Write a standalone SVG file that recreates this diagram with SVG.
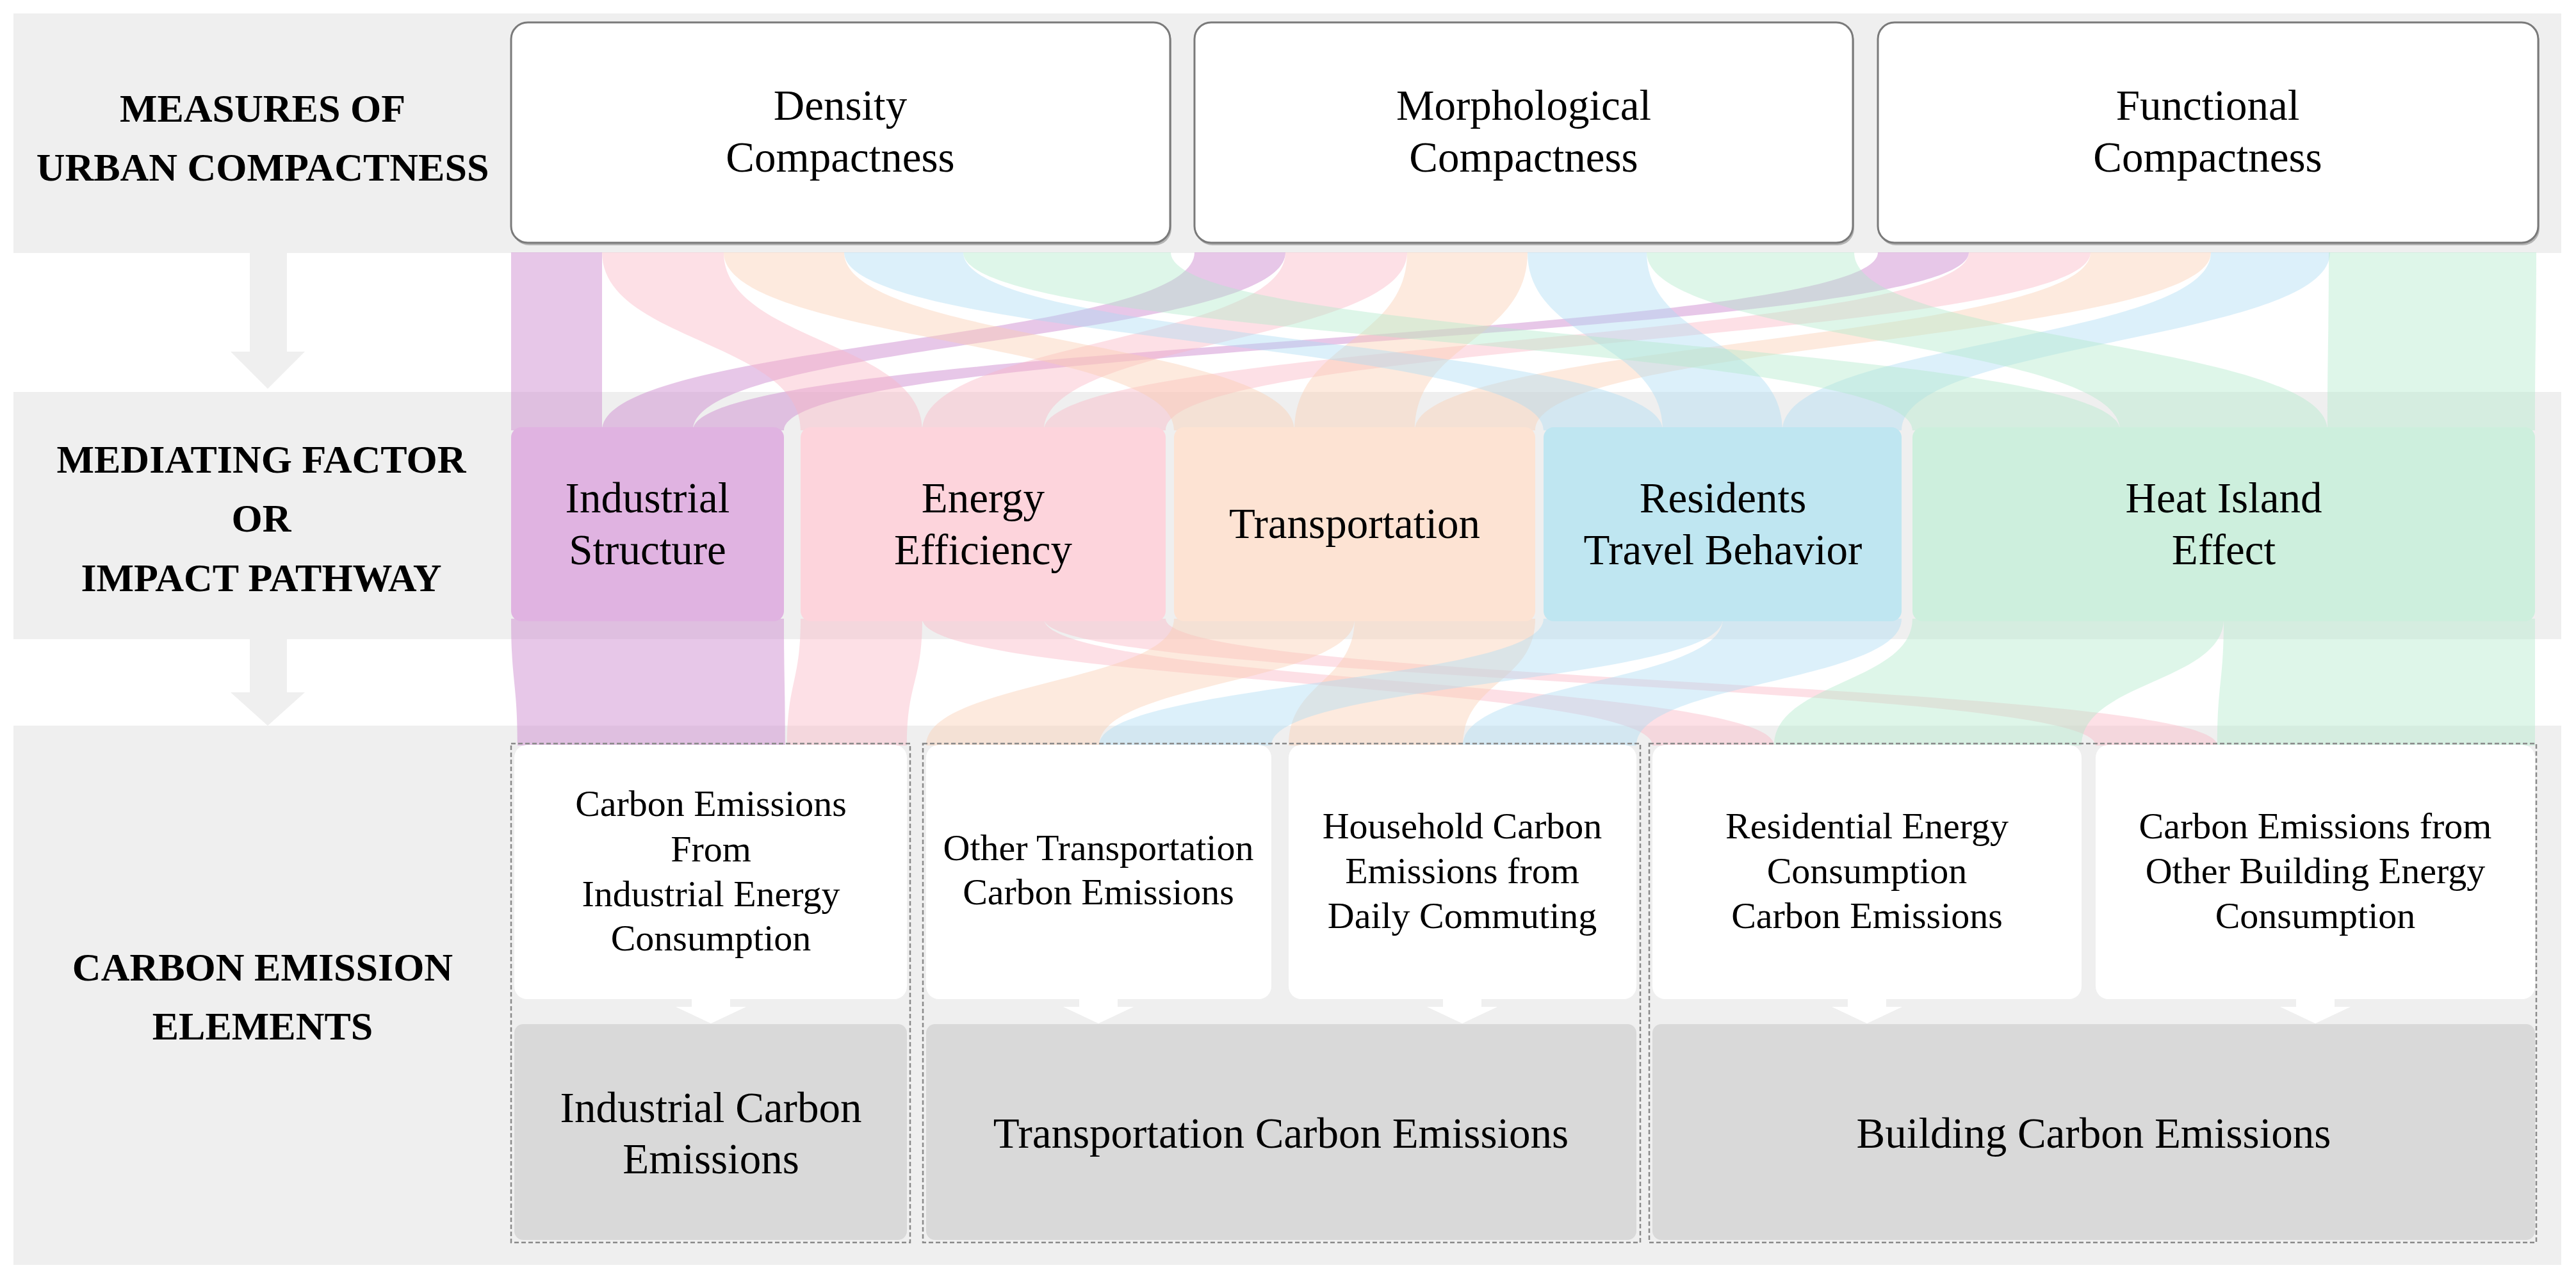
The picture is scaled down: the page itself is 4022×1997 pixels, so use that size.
<svg xmlns="http://www.w3.org/2000/svg" width="4022" height="1997" viewBox="0 0 4022 1997">
<style>
.band{fill:#efefef}
.top{fill:#ffffff;stroke:#7a7a7a;stroke-width:3}
.shadow{fill:#b4b4b4}
.lbl{font-family:"Liberation Serif","Times New Roman",serif;font-weight:bold;font-size:62px;fill:#000;text-anchor:middle}
.t67{font-family:"Liberation Serif","Times New Roman",serif;font-size:67px;fill:#000;text-anchor:middle}
.t58{font-family:"Liberation Serif","Times New Roman",serif;font-size:58px;fill:#000;text-anchor:middle}
.grp{fill:none;stroke:#8a8a8a;stroke-width:2.5;stroke-dasharray:7 4}
.wb{fill:#ffffff}
.gb{fill:#d9d9d9}
.pu{fill:#cf8fd2;fill-opacity:0.5}
.pk{fill:#fbb4c3;fill-opacity:0.42}
.pe{fill:#fbcdb0;fill-opacity:0.42}
.bl{fill:#acdcf2;fill-opacity:0.42}
.gr{fill:#b0e9cb;fill-opacity:0.42}
.sarrow{fill:#ffffff}
</style>
<rect x="0" y="0" width="4022" height="1997" fill="#ffffff"/>
<g id="bands">
<rect class="band" x="21" y="21" width="3978" height="374"/>
<rect class="band" x="21" y="612" width="3978" height="386"/>
<rect class="band" x="21" y="1133" width="3978" height="842"/>
<path class="band" d="M390 395 H448 V549 H476 L418 607 L360 549 H390 Z"/>
<path class="band" d="M390 998 H448 V1081 H476 L418 1133 L360 1081 H390 Z"/>
</g>
<g id="row-labels">
<text class="lbl" x="410" y="190">MEASURES OF</text>
<text class="lbl" x="410" y="282">URBAN COMPACTNESS</text>
<text class="lbl" x="408" y="738">MEDIATING FACTOR</text>
<text class="lbl" x="408" y="830">OR</text>
<text class="lbl" x="408" y="923">IMPACT PATHWAY</text>
<text class="lbl" x="410" y="1531">CARBON EMISSION</text>
<text class="lbl" x="410" y="1623">ELEMENTS</text>
</g>
<g id="connectors">
<path class="pu" d="M798 394 C798 533 798 533 798 672 L940 672 C940 533 940 533 940 394 Z"/>
<path class="pu" d="M1865 394 C1865 533 940 533 940 672 L1082 672 C1082 533 2007 533 2007 394 Z"/>
<path class="pu" d="M2932 394 C2932 533 1082 533 1082 672 L1224 672 C1224 533 3074 533 3074 394 Z"/>
<path class="pk" d="M940 394 C940 533 1250 533 1250 672 L1440 672 C1440 533 1130 533 1130 394 Z"/>
<path class="pk" d="M2007 394 C2007 533 1440 533 1440 672 L1630 672 C1630 533 2197 533 2197 394 Z"/>
<path class="pk" d="M3074 394 C3074 533 1630 533 1630 672 L1820 672 C1820 533 3264 533 3264 394 Z"/>
<path class="pe" d="M1130 394 C1130 533 1833 533 1833 672 L2021 672 C2021 533 1318 533 1318 394 Z"/>
<path class="pe" d="M2197 394 C2197 533 2021 533 2021 672 L2209 672 C2209 533 2385 533 2385 394 Z"/>
<path class="pe" d="M3264 394 C3264 533 2209 533 2209 672 L2397 672 C2397 533 3452 533 3452 394 Z"/>
<path class="bl" d="M1318 394 C1318 533 2410 533 2410 672 L2596 672 C2596 533 1504 533 1504 394 Z"/>
<path class="bl" d="M2385 394 C2385 533 2596 533 2596 672 L2783 672 C2783 533 2571 533 2571 394 Z"/>
<path class="bl" d="M3452 394 C3452 533 2783 533 2783 672 L2969 672 C2969 533 3638 533 3638 394 Z"/>
<path class="gr" d="M1504 394 C1504 533 2986 533 2986 672 L3310 672 C3310 533 1828 533 1828 394 Z"/>
<path class="gr" d="M2571 394 C2571 533 3310 533 3310 672 L3634 672 C3634 533 2895 533 2895 394 Z"/>
<path class="gr" d="M3636 394 C3636 533 3634 533 3634 672 L3958 672 C3958 533 3960 533 3960 394 Z"/>
<path class="pu" d="M798 966 C798 1065 808 1065 808 1164 L1226 1164 C1226 1065 1224 1065 1224 966 Z"/>
<path class="pk" d="M1250 966 C1250 1065 1229 1065 1229 1164 L1416 1164 C1416 1065 1440 1065 1440 966 Z"/>
<path class="pk" d="M1440 966 C1440 1065 2580 1065 2580 1164 L2770 1164 C2770 1065 1630 1065 1630 966 Z"/>
<path class="pk" d="M1630 966 C1630 1065 3272 1065 3272 1164 L3462 1164 C3462 1065 1820 1065 1820 966 Z"/>
<path class="pe" d="M1833 966 C1833 1065 1446 1065 1446 1164 L1716 1164 C1716 1065 2115 1065 2115 966 Z"/>
<path class="pe" d="M2115 966 C2115 1065 2012 1065 2012 1164 L2284 1164 C2284 1065 2397 1065 2397 966 Z"/>
<path class="bl" d="M2410 966 C2410 1065 1716 1065 1716 1164 L1985 1164 C1985 1065 2690 1065 2690 966 Z"/>
<path class="bl" d="M2690 966 C2690 1065 2284 1065 2284 1164 L2555 1164 C2555 1065 2969 1065 2969 966 Z"/>
<path class="gr" d="M2986 966 C2986 1065 2770 1065 2770 1164 L3250 1164 C3250 1065 3472 1065 3472 966 Z"/>
<path class="gr" d="M3472 966 C3472 1065 3462 1065 3462 1164 L3958 1164 C3958 1065 3958 1065 3958 966 Z"/>
</g>
<g id="measure-density">
<rect class="shadow" x="800" y="39" width="1029" height="344" rx="26"/>
<rect class="top" x="798" y="35" width="1029" height="344" rx="26"/>
<text class="t67" x="1312" y="187">Density</text>
<text class="t67" x="1312" y="268">Compactness</text>
</g>
<g id="measure-morphological">
<rect class="shadow" x="1867" y="39" width="1028" height="344" rx="26"/>
<rect class="top" x="1865" y="35" width="1028" height="344" rx="26"/>
<text class="t67" x="2379" y="187">Morphological</text>
<text class="t67" x="2379" y="268">Compactness</text>
</g>
<g id="measure-functional">
<rect class="shadow" x="2934" y="39" width="1031" height="344" rx="26"/>
<rect class="top" x="2932" y="35" width="1031" height="344" rx="26"/>
<text class="t67" x="3447" y="187">Functional</text>
<text class="t67" x="3447" y="268">Compactness</text>
</g>
<g id="med-industrial">
<rect x="798" y="667" width="426" height="303" rx="16" fill="#e0b3e1"/>
<text class="t67" x="1011" y="800">Industrial</text>
<text class="t67" x="1011" y="881">Structure</text>
</g>
<g id="med-energy">
<rect x="1250" y="667" width="570" height="303" rx="16" fill="#fdd4dc"/>
<text class="t67" x="1535" y="800">Energy</text>
<text class="t67" x="1535" y="881">Efficiency</text>
</g>
<g id="med-transportation">
<rect x="1833" y="667" width="564" height="303" rx="16" fill="#fde3d3"/>
<text class="t67" x="2115" y="840">Transportation</text>
</g>
<g id="med-residents">
<rect x="2410" y="667" width="559" height="303" rx="16" fill="#bfe6f1"/>
<text class="t67" x="2690" y="800">Residents</text>
<text class="t67" x="2690" y="881">Travel Behavior</text>
</g>
<g id="med-heat">
<rect x="2986" y="667" width="972" height="303" rx="16" fill="#cdefdd"/>
<text class="t67" x="3472" y="800">Heat Island</text>
<text class="t67" x="3472" y="881">Effect</text>
</g>
<g id="group-industrial">
<rect class="grp" x="798" y="1161" width="623" height="779"/>
</g>
<g id="group-transportation">
<rect class="grp" x="1441" y="1161" width="1120" height="779"/>
</g>
<g id="group-building">
<rect class="grp" x="2575" y="1161" width="1385" height="779"/>
</g>
<g id="elem-industrial-energy">
<rect class="wb" x="803" y="1163" width="613" height="397" rx="20"/>
<text class="t58" x="1110" y="1274">Carbon Emissions</text>
<text class="t58" x="1110" y="1345">From</text>
<text class="t58" x="1110" y="1415">Industrial Energy</text>
<text class="t58" x="1110" y="1484">Consumption</text>
</g>
<g id="elem-other-transport">
<rect class="wb" x="1446" y="1163" width="539" height="397" rx="20"/>
<text class="t58" x="1715" y="1343">Other Transportation</text>
<text class="t58" x="1715" y="1412">Carbon Emissions</text>
</g>
<g id="elem-household">
<rect class="wb" x="2012" y="1163" width="543" height="397" rx="20"/>
<text class="t58" x="2283" y="1309">Household Carbon</text>
<text class="t58" x="2283" y="1379">Emissions from</text>
<text class="t58" x="2283" y="1449">Daily Commuting</text>
</g>
<g id="elem-residential">
<rect class="wb" x="2580" y="1163" width="670" height="397" rx="20"/>
<text class="t58" x="2915" y="1309">Residential Energy</text>
<text class="t58" x="2915" y="1379">Consumption</text>
<text class="t58" x="2915" y="1449">Carbon Emissions</text>
</g>
<g id="elem-other-building">
<rect class="wb" x="3272" y="1163" width="686" height="397" rx="20"/>
<text class="t58" x="3615" y="1309">Carbon Emissions from</text>
<text class="t58" x="3615" y="1379">Other Building Energy</text>
<text class="t58" x="3615" y="1449">Consumption</text>
</g>
<g id="small-arrows">
<path class="sarrow" d="M1080 1558 H1140 V1572 H1165 L1110 1598 L1055 1572 H1080 Z"/>
<path class="sarrow" d="M1685 1558 H1745 V1572 H1770 L1715 1598 L1660 1572 H1685 Z"/>
<path class="sarrow" d="M2253 1558 H2313 V1572 H2338 L2283 1598 L2228 1572 H2253 Z"/>
<path class="sarrow" d="M2885 1558 H2945 V1572 H2970 L2915 1598 L2860 1572 H2885 Z"/>
<path class="sarrow" d="M3585 1558 H3645 V1572 H3670 L3615 1598 L3560 1572 H3585 Z"/>
</g>
<g id="cat-industrial">
<rect class="gb" x="803" y="1599" width="613" height="337" rx="14"/>
<text class="t67" x="1110" y="1752">Industrial Carbon</text>
<text class="t67" x="1110" y="1832">Emissions</text>
</g>
<g id="cat-transportation">
<rect class="gb" x="1446" y="1599" width="1109" height="337" rx="14"/>
<text class="t67" x="2000" y="1792">Transportation Carbon Emissions</text>
</g>
<g id="cat-building">
<rect class="gb" x="2580" y="1599" width="1378" height="337" rx="14"/>
<text class="t67" x="3269" y="1792">Building Carbon Emissions</text>
</g>
</svg>
